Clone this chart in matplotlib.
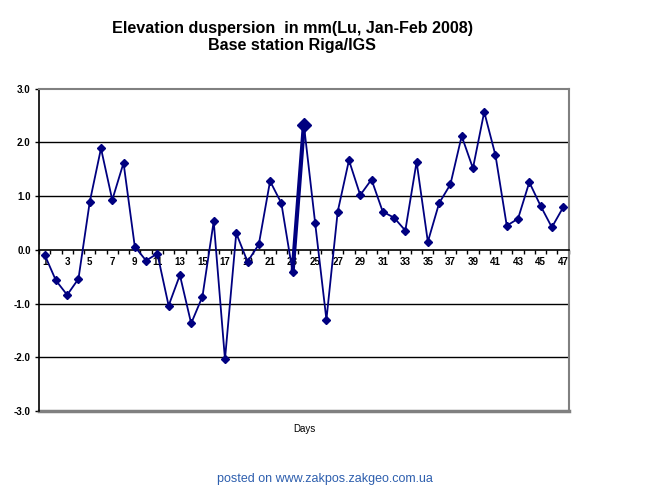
import numpy as np
import matplotlib
matplotlib.use('Agg')
import matplotlib.pyplot as plt

plt.rcParams['font.family'] = ['Liberation Sans', 'DejaVu Sans']

days = list(range(1, 48))
values = [-0.09, -0.57, -0.84, -0.54, 0.89, 1.89, 0.93, 1.62, 0.06, -0.20,
          -0.07, -1.04, -0.47, -1.37, -0.87, 0.53, -2.04, 0.31, -0.22, 0.10,
          1.28, 0.87, -0.41, 2.33, 0.50, -1.30, 0.71, 1.67, 1.02, 1.31,
          0.71, 0.60, 0.36, 1.64, 0.15, 0.87, 1.22, 2.12, 1.52, 2.57,
          1.76, 0.45, 0.58, 1.26, 0.82, 0.42, 0.79]
highlight = [23, 24]  # thick segment and big marker at day 24
yticks = [-3.0, -2.0, -1.0, 0.0, 1.0, 2.0, 3.0]

navy = '#000080'

fig = plt.figure(figsize=(6.5, 4.88), dpi=100)
ax = fig.add_axes([0.06, 0.158, 0.815, 0.66])

ax.plot(days, values, color=navy, lw=1.3, marker='D', ms=3.8, zorder=3)
hx = highlight
hy = [values[d - 1] for d in hx]
ax.plot(hx, hy, color=navy, lw=3.0, zorder=3)
ax.plot([hx[1]], [hy[1]], color=navy, marker='D', ms=7, ls='none', zorder=4)

ax.set_xlim(0.5, 47.5)
ax.set_ylim(-3, 3)

for y in [-2, -1, 1, 2]:
    ax.axhline(y, color='black', lw=1, zorder=1)

ax.spines['left'].set_color('black')
ax.spines['left'].set_linewidth(1.2)
for s in ['top', 'right']:
    ax.spines[s].set_color('#808080')
    ax.spines[s].set_linewidth(1.5)
ax.spines['bottom'].set_position(('data', 0))
ax.spines['bottom'].set_color('black')
ax.spines['bottom'].set_linewidth(1.2)
ax.axhline(-3, color='#808080', lw=2.5, clip_on=False, zorder=2)

ax.set_yticks(yticks)
ax.set_yticklabels(['%.1f' % v for v in yticks], fontsize=7, fontweight='bold')
ax.tick_params(axis='y', length=3, width=1, pad=3)

ax.set_xticks(days[::2])
ax.set_xticklabels([str(d) for d in days[::2]], fontsize=7, fontweight='bold')
ax.set_xticks(np.arange(0.5, 48, 1), minor=True)
ax.tick_params(axis='x', which='major', length=0, pad=5)
ax.tick_params(axis='x', which='minor', length=3, width=1, direction='out')

fig.text(0.45, 0.924, 'Elevation duspersion  in mm(Lu, Jan-Feb 2008)\nBase station Riga/IGS',
         ha='center', va='center', fontsize=11.6, fontweight='bold', linespacing=1.2)
fig.text(0.468, 0.12, 'Days', ha='center', va='center', fontsize=7)
fig.text(0.5, 0.018, 'posted on www.zakpos.zakgeo.com.ua', ha='center', va='center',
         fontsize=9, color='#2e5fae')

plt.savefig('out.png', dpi=100)
